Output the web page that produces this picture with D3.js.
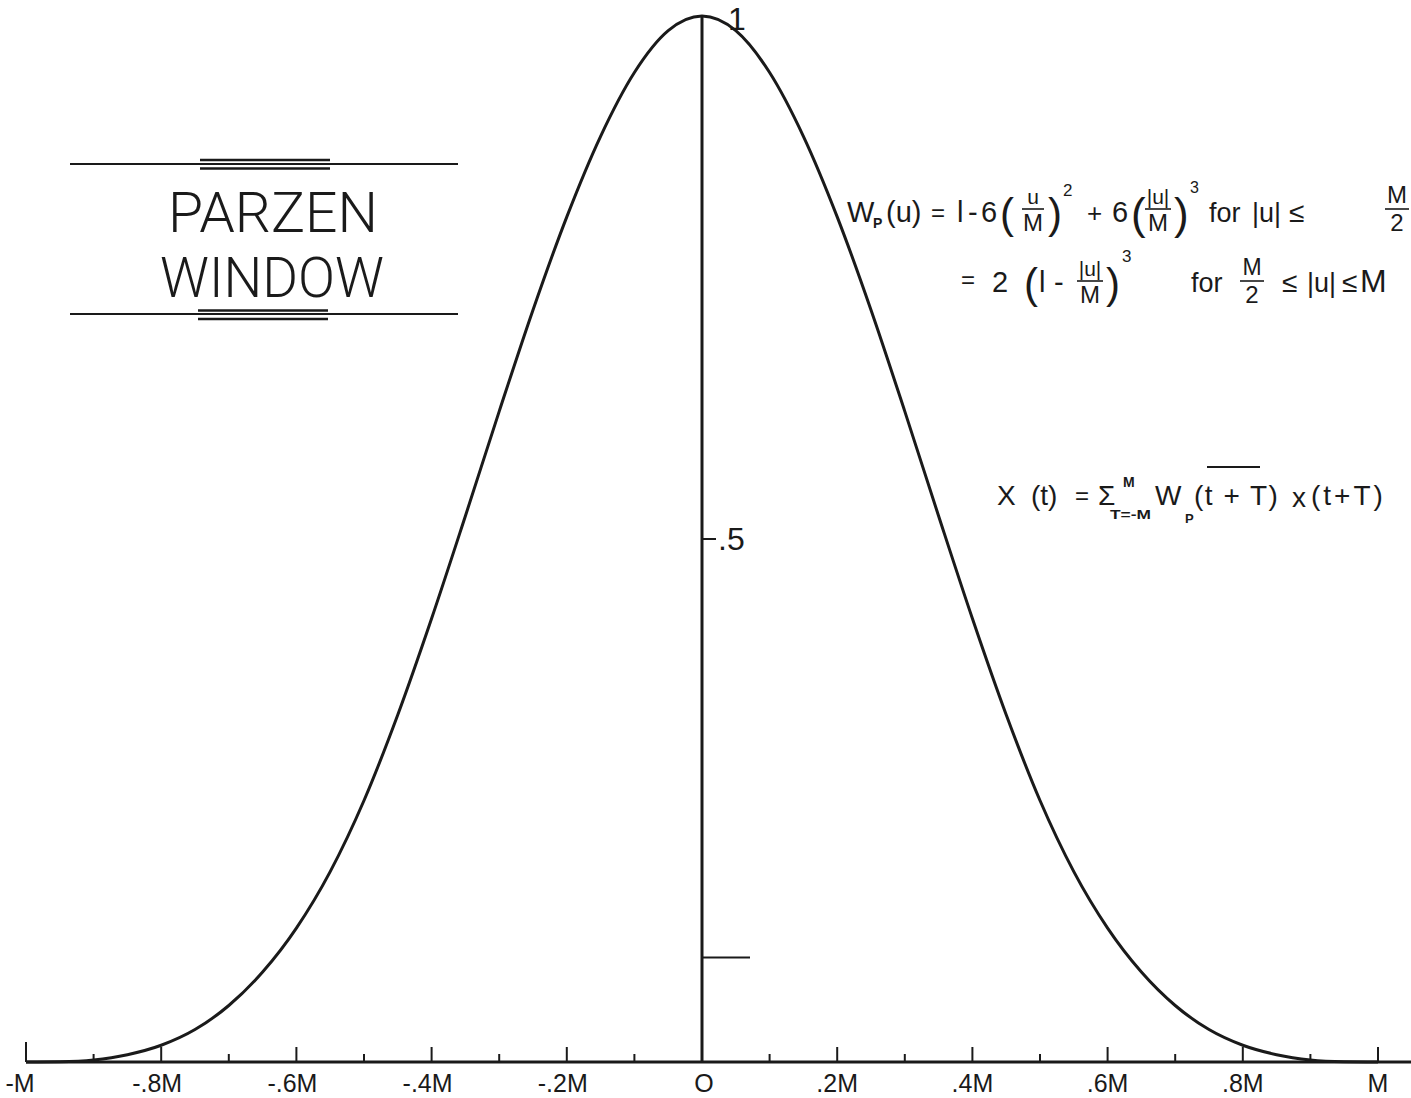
<!DOCTYPE html>
<html>
<head>
<meta charset="utf-8">
<script src="https://cdn.jsdelivr.net/npm/d3@7"></script>
<style>
  html, body { margin: 0; padding: 0; background: #fff; }
  svg { display: block; }
  text { fill: #1a1a1a; }
</style>
</head>
<body>
<svg id="chart" width="1411" height="1098"></svg>
<script>
// Lag positions u (in units of M) and window weights W_p(u)
const lags = [-1, -0.95, -0.9, -0.85, -0.8, -0.75, -0.7, -0.65, -0.6, -0.55,
  -0.5, -0.45, -0.4, -0.35, -0.3, -0.25, -0.2, -0.15, -0.1, -0.05,
  0, 0.05, 0.1, 0.15, 0.2, 0.25, 0.3, 0.35, 0.4, 0.45,
  0.5, 0.55, 0.6, 0.65, 0.7, 0.75, 0.8, 0.85, 0.9, 0.95, 1];
const weights = [0, 0.0003, 0.002, 0.007, 0.016, 0.031, 0.054, 0.086, 0.128, 0.182,
  0.25, 0.332, 0.424, 0.522, 0.622, 0.719, 0.808, 0.885, 0.946, 0.986,
  1, 0.986, 0.946, 0.885, 0.808, 0.719, 0.622, 0.522, 0.424, 0.332,
  0.25, 0.182, 0.128, 0.086, 0.054, 0.031, 0.016, 0.007, 0.002, 0.0003, 0];

// Horizontal axis ticks every 0.1 M, labelled every 0.2 M
const xTicks = [-1, -0.9, -0.8, -0.7, -0.6, -0.5, -0.4, -0.3, -0.2, -0.1,
  0, 0.1, 0.2, 0.3, 0.4, 0.5, 0.6, 0.7, 0.8, 0.9, 1];
const xTickLabels = ["-M", "-.8M", "-.6M", "-.4M", "-.2M", "O", ".2M", ".4M", ".6M", ".8M", "M"];
const xLabelValues = [-1, -0.8, -0.6, -0.4, -0.2, 0, 0.2, 0.4, 0.6, 0.8, 1];

// Vertical axis marks
const yTicks = [0.1, 0.5];
const yTickLen = [48, 14];
const yLabels = [".5"];
const yLabelValues = [0.5];

const svg = d3.select("#chart");
const ink = "#1a1a1a";

const x = d3.scaleLinear().domain([-1, 1]).range([26, 1378]);
const y = d3.scaleLinear().domain([0, 1]).range([1062, 16]);

// Baseline
svg.append("line")
  .attr("x1", x(-1)).attr("x2", 1411)
  .attr("y1", y(0)).attr("y2", y(0))
  .attr("stroke", ink).attr("stroke-width", 3);

// Ticks along the baseline
svg.append("g").selectAll("line").data(xTicks).join("line")
  .attr("x1", d => x(d)).attr("x2", d => x(d))
  .attr("y1", y(0))
  .attr("y2", d => {
    const i = Math.round(Math.abs(d) * 10);
    if (i === 10 && d < 0) return y(0) - 20;
    return y(0) - (i % 2 === 0 ? 15 : 8);
  })
  .attr("stroke", ink).attr("stroke-width", 2);

svg.append("g").selectAll("text").data(xLabelValues).join("text")
  .attr("x", d => d === -1 ? x(d) - 6 : x(d) - (d < 0 ? 4 : 0) + (d === 0 ? 2 : 0))
  .attr("y", 1092)
  .attr("text-anchor", "middle")
  .attr("font-family", "'Liberation Sans', Arial, sans-serif")
  .attr("font-size", 25)
  .text((d, i) => xTickLabels[i]);

// Vertical axis
svg.append("line")
  .attr("x1", x(0)).attr("x2", x(0))
  .attr("y1", y(0)).attr("y2", y(1))
  .attr("stroke", ink).attr("stroke-width", 3);

svg.append("g").selectAll("line").data(yTicks).join("line")
  .attr("x1", x(0)).attr("x2", (d, i) => x(0) + yTickLen[i])
  .attr("y1", d => y(d)).attr("y2", d => y(d))
  .attr("stroke", ink).attr("stroke-width", 2);

svg.append("g").selectAll("text").data(yLabelValues).join("text")
  .attr("x", x(0) + 16).attr("y", d => y(d) + 11)
  .attr("font-family", "'Liberation Sans', Arial, sans-serif")
  .attr("font-size", 32)
  .text((d, i) => yLabels[i]);

svg.append("text")
  .attr("x", x(0) + 26).attr("y", y(1) + 14)
  .attr("font-family", "'Liberation Sans', Arial, sans-serif")
  .attr("font-size", 32)
  .text("1");

// Window curve
const line = d3.line()
  .x((d, i) => x(lags[i]))
  .y(d => y(d))
  .curve(d3.curveMonotoneX);

svg.append("path")
  .datum(weights)
  .attr("d", line)
  .attr("fill", "none")
  .attr("stroke", ink)
  .attr("stroke-width", 3)
  .attr("stroke-linejoin", "round");

// Title block
const title = svg.append("g");
[[164, 70, 458, 2], [160, 200, 330, 2.5], [168.5, 200, 330, 2.5],
 [314, 70, 458, 2], [310.5, 198, 328, 2.5], [319, 198, 328, 2.5]].forEach(([yy, a, b, w]) => {
  title.append("line").attr("x1", a).attr("x2", b).attr("y1", yy).attr("y2", yy)
    .attr("stroke", ink).attr("stroke-width", w);
});
const titleFont = "Roboto, 'Open Sans', 'DejaVu Sans', sans-serif";
title.append("text").attr("x", 168).attr("y", 232)
  .attr("font-family", titleFont).attr("font-weight", 300).attr("font-size", 56)
  .attr("textLength", 210).attr("lengthAdjust", "spacingAndGlyphs")
  .text("PARZEN");
title.append("text").attr("x", 160).attr("y", 297)
  .attr("font-family", titleFont).attr("font-weight", 300).attr("font-size", 56)
  .attr("textLength", 224).attr("lengthAdjust", "spacingAndGlyphs")
  .text("WINDOW");

// Formula annotations
const f = svg.append("g")
  .attr("font-family", "'Liberation Sans', Arial, sans-serif");
function t(str, xx, yy, size, extra) {
  const el = f.append("text").attr("x", xx).attr("y", yy).attr("font-size", size).text(str);
  if (extra) extra(el);
  return el;
}
// Stacked fraction: numerator above a short bar, denominator below it
function frac(num, den, cx, yBar, numSize, denSize, half) {
  t(num, cx, yBar - numSize * 0.24, numSize, e => e.attr("text-anchor", "middle"));
  f.append("line").attr("x1", cx - half).attr("x2", cx + half)
    .attr("y1", yBar).attr("y2", yBar).attr("stroke", ink).attr("stroke-width", 1.6);
  t(den, cx, yBar + denSize * 0.93, denSize, e => e.attr("text-anchor", "middle"));
}

// Line 1:  Wp(u) = 1 - 6(u/M)^2 + 6(|u|/M)^3  for |u| <= M/2
t("W", 847, 222, 29);
t("P", 873, 228, 14, e => e.attr("font-weight", "bold"));
t("(u)", 886, 222, 29);
t("=", 931, 221, 24);
t("l", 957, 222, 29);
t("-", 968, 222, 29);
t("6", 981, 222, 29);
t("(", 1000, 228, 42);
frac("u", "M", 1033, 209, 21, 24, 11);
t(")", 1048, 228, 42);
t("2", 1063, 196, 17);
t("+", 1087, 222, 26);
t("6", 1112, 222, 29);
t("(", 1131, 229, 44);
frac("|u|", "M", 1158, 209, 21, 24, 13);
t(")", 1174, 229, 44);
t("3", 1190, 193, 16);
t("for", 1209, 222, 27);
t("|u|", 1252, 222, 27);
t("≤", 1289, 222, 28);
frac("M", "2", 1397, 209, 24, 24, 12);

// Line 2:  = 2 (1 - |u|/M)^3  for M/2 <= |u| <= M
t("=", 961, 288, 24);
t("2", 992, 292, 29);
t("(", 1024, 298, 42);
t("l", 1039, 292, 29);
t("-", 1054, 292, 29);
frac("|u|", "M", 1090, 281, 21, 24, 13);
t(")", 1106, 298, 42);
t("3", 1122, 262, 17);
t("for", 1191, 292, 27);
frac("M", "2", 1252, 281, 23, 24, 12);
t("≤", 1282, 292, 28);
t("|u|", 1307, 292, 27);
t("≤", 1342, 292, 28);
t("M", 1360, 292, 32);

// Line 3:  X(t) = Σ_{T=-M}^{M} Wp(t+T) x(t+T)
t("X", 997, 505, 28);
t("(t)", 1031, 505, 28);
t("=", 1075, 504, 24);
t("Σ", 1098, 505, 28);
t("M", 1123, 487, 14, e => e.attr("font-weight", "bold"));
t("T=-M", 1110, 519, 13, e => e.attr("font-weight", "bold")
  .attr("textLength", 41).attr("lengthAdjust", "spacingAndGlyphs"));
t("W", 1155, 505, 28);
t("P", 1185, 523, 13, e => e.attr("font-weight", "bold"));
t("(t + T)", 1194, 505, 28, e => e.attr("letter-spacing", 1.5));
f.append("line").attr("x1", 1207).attr("x2", 1260).attr("y1", 467).attr("y2", 467)
  .attr("stroke", ink).attr("stroke-width", 2);
t("x", 1292, 507, 28);
t("(t+T)", 1311, 505, 28, e => e.attr("letter-spacing", 3));
</script>
</body>
</html>
